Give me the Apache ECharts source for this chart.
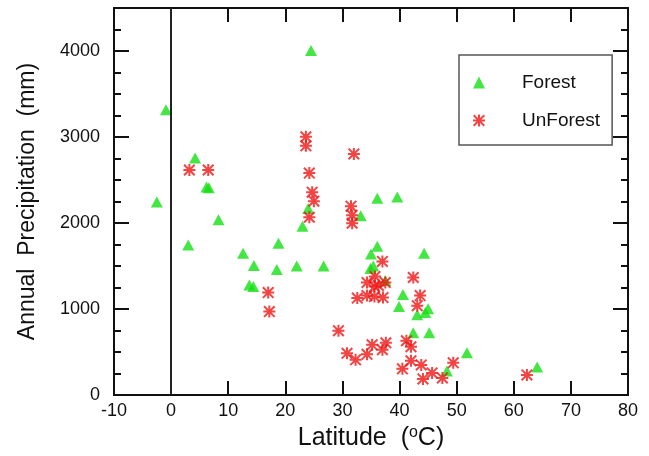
<!DOCTYPE html>
<html>
<head>
<meta charset="utf-8">
<script src="https://cdn.jsdelivr.net/npm/echarts@6/dist/echarts.min.js"></script>
<style>
  html, body { margin: 0; padding: 0; background: #fff; }
  #chart { width: 649px; height: 456px; }
</style>
</head>
<body>
<div id="chart"></div>
<script>
// Latitude / precipitation pairs
const forestLat = [-2.5, -0.9, 4.2, 6.2, 6.6, 3.0, 8.3, 12.6, 14.5, 13.7, 14.4, 18.8, 18.5, 22.0, 26.7, 23.0, 24.0, 24.5,
  33.2, 36.1, 39.6, 36.1, 35.0, 34.9, 35.4, 44.3, 40.6, 39.9, 45.0, 43.1, 44.5, 42.4, 45.2, 51.8, 48.3, 64.1, 37.5];
const forestPrec = [2243, 3317, 2756, 2418, 2410, 1745, 2038, 1647, 1507, 1280, 1262, 1764, 1460, 1500, 1500, 1962, 2170, 4006,
  2085, 2289, 2301, 1729, 1640, 1472, 1500, 1647, 1168, 1028, 1004, 934, 958, 724, 724, 490, 280, 327, 1330];

const unforestLat = [3.2, 6.5, 23.6, 23.6, 24.2, 24.7, 25.0, 24.2, 32.0, 31.5, 31.7, 31.7, 17.0, 17.2,
  29.3, 30.8, 32.3, 32.6, 34.3, 35.2, 37.0, 37.6, 34.3, 35.6, 37.1, 34.3, 35.7, 36.3, 37.5, 35.6, 37.0,
  42.4, 43.6, 43.1, 41.2, 42.0, 40.5, 42.0, 43.8, 44.1, 45.7, 47.5, 49.4, 62.3];
const unforestPrec = [2616, 2616, 3002, 2897, 2581, 2359, 2254, 2067, 2803, 2196, 2090, 1997, 1191, 970,
  748, 485, 409, 1127, 473, 584, 526, 607, 1156, 1145, 1133, 1308, 1378, 1273, 1308, 1261, 1553,
  1366, 1156, 1039, 631, 561, 304, 397, 350, 187, 257, 199, 374, 234];

const xTicks = [-10, 80, 10];      // min, max, interval
const yMajor = [0, 4500, 1000];    // min, max, interval
const yMinorInterval = 250;
const seriesNames = ['Forest', 'UnForest'];

const zip = (a, b) => a.map((v, i) => [v, b[i]]);
const FONT = 'Liberation Sans, Arial, Helvetica, sans-serif';
const asterisk = 'path://M5 0H7V12H5Z M0 5H12V7H0Z M0 1.4L1.4 0L12 10.6L10.6 12Z M1.4 12L0 10.6L10.6 0L12 1.4Z';

const axisLine = { show: true, onZero: false, lineStyle: { color: '#111', width: 2 } };
function yAx(pos, interval, tickLen, labels) {
  return {
    type: 'value', position: pos, min: yMajor[0], max: yMajor[1], interval: interval,
    axisLine: axisLine,
    axisTick: { show: true, inside: true, length: tickLen, lineStyle: { color: '#111', width: 2 } },
    axisLabel: labels ? {
      show: true, fontSize: 18, color: '#111', fontFamily: FONT, margin: 14,
      formatter: v => (v % 1000 === 0 ? String(v) : '')
    } : { show: false },
    splitLine: { show: false }
  };
}

const chart = echarts.init(document.getElementById('chart'), null, { renderer: 'canvas' });
const y0 = yAx('left', yMajor[2], 15, true);
y0.name = 'Annual  Precipitation  (mm)';
y0.nameLocation = 'middle';
y0.nameGap = 75;
y0.nameTextStyle = { fontSize: 23, color: '#111', fontFamily: FONT };

chart.setOption({
  animation: false,
  backgroundColor: '#fff',
  textStyle: { fontFamily: FONT },
  grid: { left: 114, right: 21, top: 8, bottom: 61, containLabel: false },
  legend: {
    orient: 'vertical', left: 459, top: 55,
    itemWidth: 12, itemHeight: 12, itemGap: 19,
    padding: [18, 12, 15, 14],
    borderColor: '#555', borderWidth: 1.5, backgroundColor: '#fff',
    textStyle: { fontSize: 19, color: '#111', fontFamily: FONT, padding: [0, 0, 0, 32] },
    data: seriesNames
  },
  xAxis: [{
    type: 'value', position: 'bottom', min: xTicks[0], max: xTicks[1], interval: xTicks[2],
    axisLine: axisLine,
    axisTick: { show: true, inside: true, length: 14, lineStyle: { color: '#111', width: 2 } },
    axisLabel: { fontSize: 18, color: '#111', fontFamily: FONT, margin: 7 },
    splitLine: { show: false },
    name: 'Latitude  ({sup|o}C)', nameLocation: 'middle', nameGap: 30,
    nameTextStyle: {
      fontSize: 25, color: '#111', fontFamily: FONT, verticalAlign: 'top',
      rich: { sup: { fontSize: 16, color: '#111', fontFamily: FONT, verticalAlign: 'top', padding: [0, 0, 10, 0] } }
    }
  }, {
    type: 'value', position: 'top', min: xTicks[0], max: xTicks[1], interval: xTicks[2],
    axisLine: axisLine,
    axisTick: { show: true, inside: true, length: 14, lineStyle: { color: '#111', width: 2 } },
    axisLabel: { show: false }, splitLine: { show: false }
  }],
  yAxis: [
    y0,
    yAx('left', yMinorInterval, 7, false),
    yAx('right', yMajor[2], 15, false),
    yAx('right', yMinorInterval, 7, false)
  ],
  series: [{
    name: seriesNames[0], type: 'scatter', xAxisIndex: 0, yAxisIndex: 0,
    symbol: 'triangle', symbolSize: [12, 11],
    itemStyle: { color: '#14e014' },
    data: zip(forestLat, forestPrec),
    markLine: {
      silent: true, symbol: 'none', animation: false,
      label: { show: false },
      lineStyle: { color: '#222', width: 2, type: 'solid' },
      data: [{ xAxis: 0 }]
    }
  }, {
    name: seriesNames[1], type: 'scatter', xAxisIndex: 0, yAxisIndex: 0,
    symbol: asterisk, symbolSize: 12,
    itemStyle: { color: '#f01414' },
    data: zip(unforestLat, unforestPrec)
  }]
});
</script>
</body>
</html>
